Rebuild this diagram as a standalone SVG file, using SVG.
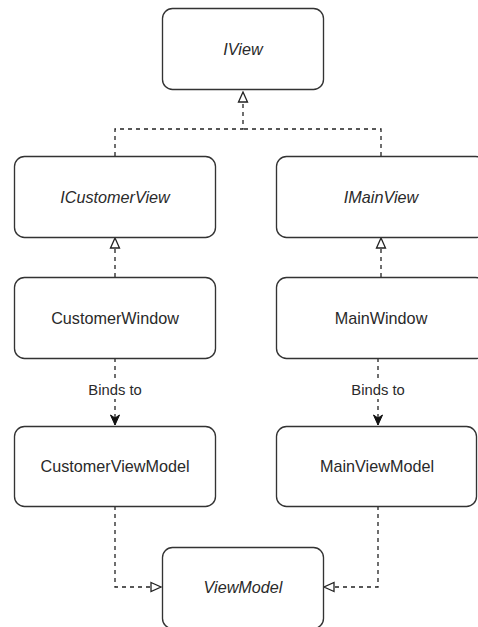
<svg xmlns="http://www.w3.org/2000/svg" width="478" height="627" viewBox="0 0 478 627">
  <style>
    .box { fill: #ffffff; stroke: #333333; stroke-width: 1.35; }
    .lbl { font-family: "Liberation Sans", Arial, sans-serif; font-size: 16.2px; fill: #2a2a2a; text-anchor: middle; dominant-baseline: central; }
    .small { font-size: 14.8px; }
    .it { font-style: italic; }
    .edge { fill: none; stroke: #222222; stroke-width: 1.3; stroke-dasharray: 4 4; }
    .bg { fill: #ffffff; }
  </style>
  <defs>
    <marker id="realize" viewBox="0 0 12 12" refX="11" refY="6" markerWidth="12" markerHeight="12" markerUnits="userSpaceOnUse" orient="auto">
      <path d="M1,1.5 L11,6 L1,10.5 Z" fill="#ffffff" stroke="#222222" stroke-width="1.3"/>
    </marker>
    <marker id="open" viewBox="0 0 12 12" refX="11" refY="6" markerWidth="12" markerHeight="12" markerUnits="userSpaceOnUse" orient="auto">
      <path d="M1,1.5 L11,6 L1,10.5 L4,6 Z" fill="#111111" stroke="#111111" stroke-width="1"/>
    </marker>
  </defs>
  <rect class="bg" x="0" y="0" width="478" height="627"/>

  <g id="connectors">
    <path class="edge" d="M115,156 V129 H243 V92" marker-end="url(#realize)"/>
    <path class="edge" d="M381,156 V129 H243"/>
    <path class="edge" d="M115,277 V238" marker-end="url(#realize)"/>
    <path class="edge" d="M381,277 V238" marker-end="url(#realize)"/>
    <path class="edge" d="M115,358 V425" marker-end="url(#open)"/>
    <path class="edge" d="M378,358 V425" marker-end="url(#open)"/>
    <path class="edge" d="M115,506 V587 H161" marker-end="url(#realize)"/>
    <path class="edge" d="M378,506 V587 H324" marker-end="url(#realize)"/>
    <rect class="bg" x="86" y="381" width="58" height="18"/>
    <text class="lbl small" x="115" y="390">Binds to</text>
    <rect class="bg" x="349" y="381" width="58" height="18"/>
    <text class="lbl small" x="378" y="390">Binds to</text>
  </g>

  <g id="iview">
    <rect class="box" x="162.5" y="8.5" width="161" height="81" rx="10"/>
    <text class="lbl it" x="243" y="49">IView</text>
  </g>
  <g id="icustomerview">
    <rect class="box" x="14.5" y="156.5" width="201" height="81" rx="10"/>
    <text class="lbl it" x="115" y="197">ICustomerView</text>
  </g>
  <g id="imainview">
    <rect class="box" x="276.5" y="156.5" width="209" height="81" rx="10"/>
    <text class="lbl it" x="381" y="197">IMainView</text>
  </g>
  <g id="customerwindow">
    <rect class="box" x="14.5" y="277.5" width="201" height="81" rx="10"/>
    <text class="lbl" x="115" y="318">CustomerWindow</text>
  </g>
  <g id="mainwindow">
    <rect class="box" x="276.5" y="277.5" width="209" height="81" rx="10"/>
    <text class="lbl" x="381" y="318">MainWindow</text>
  </g>
  <g id="customerviewmodel">
    <rect class="box" x="14.5" y="426.5" width="201" height="80" rx="10"/>
    <text class="lbl" x="115" y="466">CustomerViewModel</text>
  </g>
  <g id="mainviewmodel">
    <rect class="box" x="276.5" y="426.5" width="200" height="80" rx="10"/>
    <text class="lbl" x="377" y="466">MainViewModel</text>
  </g>
  <g id="viewmodel">
    <rect class="box" x="162.5" y="547.5" width="161" height="81" rx="10"/>
    <text class="lbl it" x="243" y="587">ViewModel</text>
  </g>
</svg>
